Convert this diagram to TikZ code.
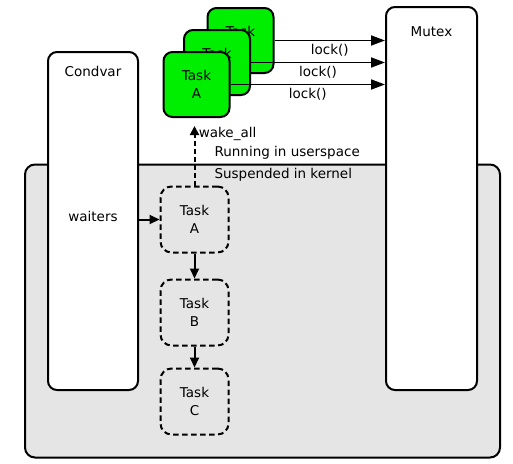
\documentclass[tikz,border=0pt]{standalone}
\usepackage{fontspec}
\setmainfont{DejaVu Sans}
\usepackage{tikz}
\usetikzlibrary{calc,positioning,arrows.meta}
\definecolor{taskgreen}{RGB}{0,238,0}
\definecolor{kernelgrey}{RGB}{229,229,229}

\begin{document}
\begin{tikzpicture}[
    x=1pt, y=-1pt,
    font=\fontsize{13.5}{18.5}\selectfont,
    kernelbox/.style={draw=black, line width=2pt, fill=kernelgrey, rounded corners=10pt, minimum width=475pt, minimum height=293pt, inner sep=0pt},
    lockbox/.style={draw=black, line width=2pt, fill=white, rounded corners=9pt, inner sep=0pt},
    usertask/.style={draw=black, line width=2pt, fill=taskgreen, rounded corners=9pt, minimum width=66pt, minimum height=65pt, align=center, inner sep=0pt},
    sleeptask/.style={draw=black, line width=2pt, dash pattern=on 5.5pt off 3.5pt, rounded corners=11pt, minimum width=68pt, minimum height=66pt, align=center, inner sep=0pt},
    lockcall/.style={-{Triangle[length=14pt,width=10pt]}, line width=1.8pt},
    queue/.style={-{Triangle[length=10pt,width=9pt]}, line width=2pt},
    wake/.style={-{Triangle[length=9pt,width=9pt]}, line width=2pt, dash pattern=on 4.5pt off 3.5pt}
]
\useasboundingbox (0,0) rectangle (513,463);

\node[kernelbox] (kernel) at (262.5,311) {};

\node[lockbox, minimum width=90pt, minimum height=338pt] (condvar) at (93,221) {};
\node[below=12pt of condvar.north] (condvarname) {Condvar};
\node (waiters) at (93,216) {waiters};

\node[lockbox, minimum width=91pt, minimum height=383pt] (mutex) at (431.5,198.5) {};
\node[below=17pt of mutex.north] (mutexname) {Mutex};

\node[usertask] (taskC) at (240.5,40.5) {Task\\C};
\node[usertask] (taskB) at (217,62.5) {Task\\B};
\node[usertask] (taskA) at (196.5,84.5) {Task\\A};

\node[anchor=west] (user) at (211,153) {Running in userspace};
\node[anchor=west] (suspended) at (211,175) {Suspended in kernel};

\node[sleeptask] (waitA) at (194.5,219.5) {Task\\A};
\node[sleeptask] (waitB) at (194.5,312.5) {Task\\B};
\node[sleeptask] (waitC) at (194.5,401.5) {Task\\C};

\draw[lockcall] (taskC.east) -- node[below] {lock()} (taskC.east -| mutex.west);
\draw[lockcall] (taskB.east) -- node[below] {lock()} (taskB.east -| mutex.west);
\draw[lockcall] (taskA.east) -- node[below] {lock()} (taskA.east -| mutex.west);

\draw[queue] (waitA.west -| condvar.east) -- (waitA.west);
\draw[queue] (waitA.south) -- (waitB.north);
\draw[queue] (waitB.south) -- (waitC.north);
\draw[wake, shorten >=8pt] (waitA.north) -- node[right, pos=0.77] {wake\_all} (waitA.north |- taskA.south);
\end{tikzpicture}
\end{document}
